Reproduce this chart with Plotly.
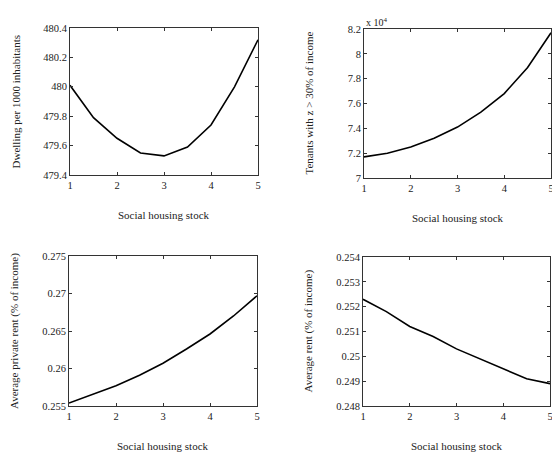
import plotly.graph_objects as go

stock = [1, 1.5, 2, 2.5, 3, 3.5, 4, 4.5, 5]
dwelling = [480.01, 479.79, 479.65, 479.55, 479.53, 479.59, 479.74, 480.0, 480.32]
tenants_1e4 = [7.17, 7.20, 7.25, 7.32, 7.41, 7.53, 7.68, 7.89, 8.17]
private_rent = [0.2554, 0.2565, 0.2577, 0.2591, 0.2607, 0.2626, 0.2646, 0.2670, 0.2697]
avg_rent = [0.2523, 0.2518, 0.2512, 0.2508, 0.2503, 0.2499, 0.2495, 0.2491, 0.2489]

x_ticks = [1, 2, 3, 4, 5]
x_ticktext = ["1", "2", "3", "4", "5"]
dw_ticks = [479.4, 479.6, 479.8, 480.0, 480.2, 480.4]
dw_text = ["479.4", "479.6", "479.8", "480", "480.2", "480.4"]
tn_ticks = [7.0, 7.2, 7.4, 7.6, 7.8, 8.0, 8.2]
tn_text = ["7", "7.2", "7.4", "7.6", "7.8", "8", "8.2"]
pr_ticks = [0.255, 0.26, 0.265, 0.27, 0.275]
pr_text = ["0.255", "0.26", "0.265", "0.27", "0.275"]
ar_ticks = [0.248, 0.249, 0.25, 0.251, 0.252, 0.253, 0.254]
ar_text = ["0.248", "0.249", "0.25", "0.251", "0.252", "0.253", "0.254"]

ytitles = ["Dwelling per 1000 inhabitants", "Tenants with z > 30% of income",
           "Average private rent (% of income)", "Average rent (% of income)"]
xtitle = "Social housing stock"

W, H = 552, 459
FONT = "Liberation Serif"

# panel pixel boxes: (left, right, top, bottom)
boxes = [(70, 258, 28, 175), (364, 551, 29, 178), (69, 257, 256, 406), (363, 550, 257, 406)]
series = [dwelling, tenants_1e4, private_rent, avg_rent]
yt = [(dw_ticks, dw_text), (tn_ticks, tn_text), (pr_ticks, pr_text), (ar_ticks, ar_text)]

fig = go.Figure()
annotations = []
for i, (box, ys, (tv, tt), yl) in enumerate(zip(boxes, series, yt, ytitles)):
    n = "" if i == 0 else str(i + 1)
    l, r, t, b = box
    fig.add_trace(go.Scatter(x=stock, y=ys, mode="lines",
                             line=dict(color="black", width=1.6),
                             xaxis="x" + n, yaxis="y" + n, showlegend=False))
    axcommon = dict(showline=True, linecolor="#333", linewidth=1, mirror="allticks",
                    ticks="inside", ticklen=3, tickcolor="#333", showgrid=False,
                    zeroline=False, automargin=False,
                    tickfont=dict(family=FONT, size=10.5, color="#222"))
    fig.update_layout(**{
        "xaxis" + n: dict(domain=[l / W, r / W], anchor="y" + n, range=[1, 5],
                          tickvals=x_ticks, ticktext=x_ticktext,
                          ticklabeloverflow="allow", **axcommon),
        "yaxis" + n: dict(domain=[1 - b / H, 1 - t / H], anchor="x" + n,
                          range=[tv[0], tv[-1]], tickvals=tv, ticktext=tt, **axcommon),
    })
    annotations.append(dict(text=xtitle, xref="paper", yref="paper",
                            x=(l + r) / 2 / W, y=1 - (b + 40) / H, showarrow=False,
                            xanchor="center", yanchor="middle",
                            font=dict(family=FONT, size=11, color="#222")))
    annotations.append(dict(text=yl, xref="paper", yref="paper", textangle=-90,
                            x=(l - 55) / W, y=1 - (t + b) / 2 / H, showarrow=False,
                            xanchor="center", yanchor="middle",
                            font=dict(family=FONT, size=11, color="#222")))

annotations.append(dict(text="x 10<sup>4</sup>", xref="paper", yref="paper",
                        x=364 / W, y=1 - 22 / H, xanchor="left", yanchor="middle",
                        showarrow=False,
                        font=dict(family=FONT, size=10, color="#222")))

fig.update_layout(width=W, height=H, margin=dict(l=0, r=0, t=0, b=0, autoexpand=False),
                  paper_bgcolor="white", plot_bgcolor="white",
                  annotations=annotations)
fig.write_html("out.html", config={"displayModeBar": False},
               post_script="document.body.style.margin='0';document.body.style.overflow='hidden';")
